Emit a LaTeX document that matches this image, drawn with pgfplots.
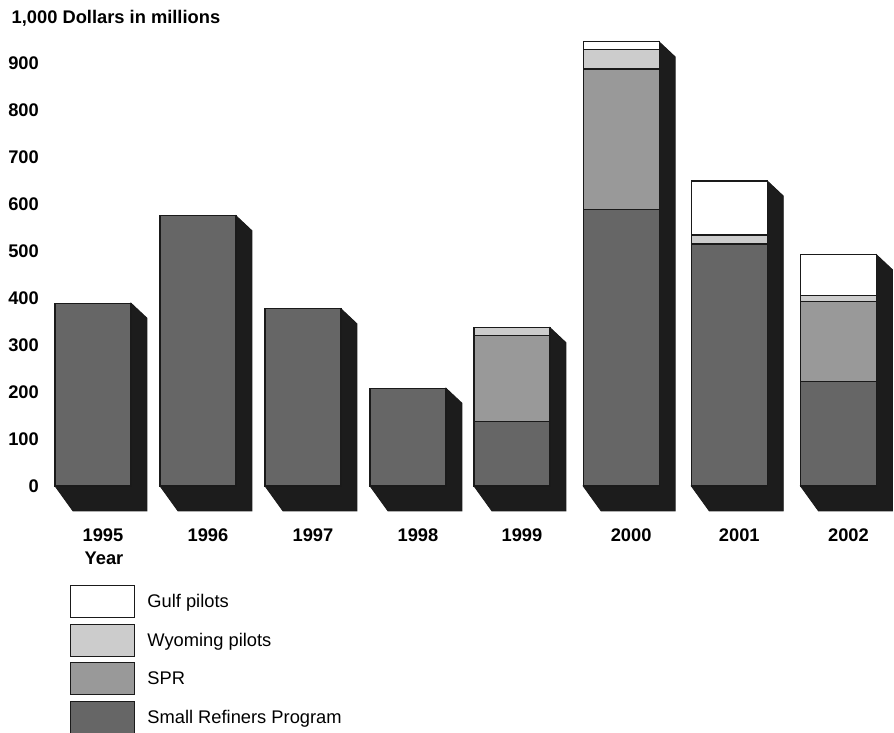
\documentclass[border=0pt]{standalone}
\usepackage{fontspec}
\setmainfont{Liberation Sans}
\usepackage{pgfplots}
\usepackage{pgfplotstable}
\pgfplotsset{compat=1.18}

\definecolor{srgray}{HTML}{666666}
\definecolor{sprgray}{HTML}{999999}
\definecolor{wygray}{HTML}{CCCCCC}
\definecolor{shadowgray}{HTML}{1C1C1C}
\definecolor{edge}{HTML}{1A1A1A}

% dollars in millions, read off the chart
\pgfplotstableread{
pos   year  sr   spr  wy  gulf  total
0     1995  389  0    0   0     389
1     1996  575  0    0   0     575
2     1997  377  0    0   0     377
3     1998  208  0    0   0     208
3.99  1999  138  182  17  0     337
5.03  2000  589  298  41  17    945
6.06  2001  515  0    19  115   649
7.10  2002  223  170  12  87    492
}\funds

% dark side/bottom of a bar, drawn from the top centre of its front face
\pgfdeclareplotmark{side3d}{%
  \pgfmathsetmacro\hh{\barh*0.47}%
  \pgfpathmoveto{\pgfpoint{38pt}{0pt}}%
  \pgfpathlineto{\pgfpoint{54pt}{-15pt}}%
  \pgfpathlineto{\pgfpoint{54pt}{-\hh pt-25pt}}%
  \pgfpathlineto{\pgfpoint{-20pt}{-\hh pt-25pt}}%
  \pgfpathlineto{\pgfpoint{-38pt}{-\hh pt}}%
  \pgfpathlineto{\pgfpoint{38pt}{-\hh pt}}%
  \pgfpathclose
  \pgfusepathqfillstroke
}

\pgfplotsset{
  frame/.style={
    x=105pt, y=0.47pt,
    xmin=-0.457, xmax=7.62,
    ymin=-53, ymax=955,
    clip=false,
  },
}

\begin{document}
\begin{tikzpicture}
\begin{axis}[frame, hide axis]
\addplot[only marks, mark=side3d,
  mark options={fill=shadowgray, draw=edge, line width=0.8pt},
  visualization depends on={\thisrow{total} \as \barh}]
  table[x=pos, y=total] {\funds};
\end{axis}

\begin{axis}[frame,
  ybar stacked,
  bar width=76pt,
  axis line style={draw=none},
  major tick length=0pt,
  ytick={0,100,...,900},
  xtick={0,1,2,3,3.99,5.03,6.06,7.10},
  xticklabels={1995,1996,1997,1998,1999,2000,2001,2002},
  /pgf/number format/assume math mode=true,
  tick label style={font=\bfseries\fontsize{18.3}{21}\selectfont},
  yticklabel style={anchor=east, inner sep=0pt, xshift=-6pt},
  xticklabel style={anchor=center, inner sep=0pt, yshift=-24.3pt, xshift=10pt},
  legend style={at={(axis description cs:0.0295,-0.1564)}, anchor=north west,
    draw=none, fill=none, inner sep=0pt, row sep=5.3pt, column sep=10pt,
    font=\fontsize{18.3}{21}\selectfont},
  legend cell align=left,
  reverse legend,
  legend image code/.code={\draw[#1] (0pt,-16pt) rectangle (64pt,16pt);},
  every axis plot/.append style={draw=edge, line width=1.2pt},
]
\addplot[fill=srgray] table[x=pos, y=sr] {\funds};
\addplot[fill=sprgray] table[x=pos, y=spr] {\funds};
\addplot[fill=wygray] table[x=pos, y=wy] {\funds};
\addplot[fill=white] table[x=pos, y=gulf] {\funds};
\legend{Small Refiners Program, SPR, Wyoming pilots, Gulf pilots}
\end{axis}

\node[anchor=base west, font=\bfseries\fontsize{18.3}{21}\selectfont, inner sep=0pt]
  at (-33.5pt,487.6pt) {1,000 Dollars in millions};
\node[anchor=base, font=\bfseries\fontsize{18.3}{21}\selectfont, inner sep=0pt]
  at (59pt,-53.8pt) {Year};

\pgfresetboundingbox
\path[use as bounding box] (-45pt,-222.1pt) rectangle (849pt,510.9pt);
\end{tikzpicture}
\end{document}
